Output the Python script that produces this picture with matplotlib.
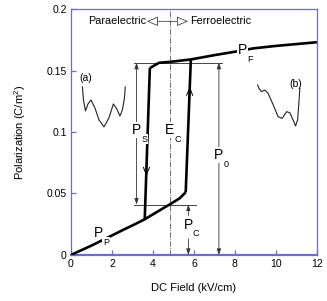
import matplotlib
matplotlib.use("Agg")
import matplotlib.pyplot as plt

plt.rcParams['font.family'] = ['Liberation Sans', 'DejaVu Sans']
plt.rcParams['mathtext.fontset'] = 'custom'
plt.rcParams['mathtext.rm'] = 'Liberation Sans'

# ---- data ----
lower_x = [0.0, 1.05, 1.8, 2.5, 3.0, 3.6, 4.2, 4.83, 5.3, 5.6]
lower_y = [0.0, 0.008, 0.0142, 0.020, 0.024, 0.029, 0.035, 0.0412, 0.046, 0.051]
left_branch_x = [3.6, 3.85]
left_branch_y = [0.029, 0.152]
right_branch_x = [5.6, 5.85]
right_branch_y = [0.051, 0.159]
upper_x = [3.85, 4.3, 4.83, 5.85, 7.0, 8.08, 8.9, 10.0, 11.0, 12.0]
upper_y = [0.152, 0.1563, 0.157, 0.159, 0.1625, 0.1655, 0.168, 0.170, 0.1715, 0.173]

well_a_x = [0.56, 0.61, 0.71, 0.83, 0.98, 1.17, 1.37, 1.61, 1.85, 2.07, 2.24, 2.39, 2.51, 2.61, 2.65]
well_a_y = [0.1366, 0.1260, 0.1171, 0.1228, 0.1260, 0.1195, 0.1098, 0.1041, 0.1114, 0.1228,
            0.1187, 0.1130, 0.1179, 0.1276, 0.1366]
well_b_x = [9.11, 9.17, 9.30, 9.46, 9.62, 9.87, 10.11, 10.31, 10.52, 10.68, 10.84, 10.96, 11.06, 11.12, 11.17]
well_b_y = [0.1382, 0.1355, 0.1328, 0.1341, 0.1315, 0.1220, 0.1124, 0.1111, 0.1165, 0.1157,
            0.1098, 0.1049, 0.1098, 0.1233, 0.1355]

E_c = 4.83
P_top = 0.1563
P_bot = 0.041
ps_x = 3.2
p0_x = 7.22
pc_x = 5.73

# labels: (main letter, subscript, x, y)
labels = [('P', 'S', 3.2, 0.1016),
          ('E', 'C', 4.83, 0.1016),
          ('P', '0', 7.22, 0.0813),
          ('P', 'F', 8.38, 0.1667),
          ('P', 'C', 5.72, 0.0244),
          ('P', 'P', 1.33, 0.0176)]

xticks = [0, 2, 4, 6, 8, 10, 12]
yticks = [0, 0.05, 0.1, 0.15, 0.2]
ytick_labels = ['0', '0.05', '0.1', '0.15', '0.2']

# ---- figure ----
fig = plt.figure(figsize=(3.27, 3.01), dpi=100)
ax = fig.add_axes([0.217, 0.153, 0.752, 0.817])
ax.set_xlim(0, 12)
ax.set_ylim(0, 0.2)

spc = '#6b6bd0'
for s in ax.spines.values():
    s.set_color(spc)
    s.set_linewidth(0.9)
ax.spines['bottom'].set_linewidth(1.6)
ax.tick_params(direction='in', length=3.5, width=0.9, color=spc, labelsize=7.5, pad=3)
ax.set_xticks(xticks)
ax.set_yticks(yticks)
ax.set_yticklabels(ytick_labels)
ax.set_xlabel('DC Field (kV/cm)', fontsize=8, labelpad=10)
ax.set_ylabel('Polarization (C/m$^2$)', fontsize=8, labelpad=13)

# dash-dot coercive field line
ax.axvline(E_c, color='#555555', lw=0.6, ls='-.', zorder=1)

# horizontal reference lines
ax.plot([3.07, 7.35], [P_top, P_top], color='#444444', lw=0.7, zorder=2)
ax.plot([3.07, 6.1], [P_bot, P_bot], color='#444444', lw=0.7, zorder=2)

# hysteresis curves
kw = dict(color='black', lw=1.9, solid_capstyle='butt', zorder=4)
ax.plot(lower_x, lower_y, **kw)
ax.plot(left_branch_x, left_branch_y, **kw)
ax.plot(right_branch_x, right_branch_y, **kw)
ax.plot(upper_x, upper_y, **kw)

# potential wells
ax.plot(well_a_x, well_a_y, color='#222222', lw=0.8)
ax.plot(well_b_x, well_b_y, color='#222222', lw=0.8)

dbl = dict(arrowstyle='<|-|>,head_length=0.35,head_width=0.12',
           color='#333333', lw=0.6, shrinkA=0, shrinkB=0)
ah = dict(arrowstyle='-|>,head_length=0.35,head_width=0.12', color='#333333', lw=0.6,
          shrinkA=0, shrinkB=0)
ax.annotate('', xy=(ps_x, P_top), xytext=(ps_x, P_bot), arrowprops=dbl)
ax.annotate('', xy=(p0_x, P_top), xytext=(p0_x, 0.0), arrowprops=dbl)
ax.annotate('', xy=(pc_x, P_bot), xytext=(pc_x, 0.032), arrowprops=ah)
ax.annotate('', xy=(pc_x, 0.0), xytext=(pc_x, 0.013), arrowprops=ah)

# direction chevrons on branches
chev = dict(arrowstyle='->,head_length=0.55,head_width=0.22', color='black', lw=0.7,
            shrinkA=0, shrinkB=0)
ax.annotate('', xy=(5.80, 0.137), xytext=(5.79, 0.128), arrowprops=chev, zorder=5)
ax.annotate('', xy=(3.68, 0.064), xytext=(3.685, 0.073), arrowprops=chev, zorder=5)

# labels with white boxes to interrupt lines
wb = dict(facecolor='white', edgecolor='none', pad=0.6)
for main, sub, lx, ly in labels:
    box_main = None if main == 'P' and sub in ('C', 'P') else wb
    box_sub = wb if sub in ('S', 'C', '0', 'P') and not (sub == 'C' and main == 'P') else None
    ax.text(lx, ly, main, fontsize=10, ha='center', va='center', bbox=box_main, zorder=5)
    ax.annotate(sub, xy=(lx, ly), xytext=(5.5, -6.5), textcoords='offset points',
                fontsize=6.5, ha='center', va='center', bbox=box_sub, zorder=5)

ax.text(0.7, 0.144, '(a)', fontsize=7.5, ha='center', va='center')
ax.text(10.95, 0.139, '(b)', fontsize=7.5, ha='center', va='center')

# top annotation
ty = 0.190
ax.text(3.65, ty, 'Paraelectric', fontsize=7.8, ha='right', va='center')
ax.text(5.8, ty, 'Ferroelectric', fontsize=7.8, ha='left', va='center')
hol = dict(arrowstyle='-|>,head_length=0.7,head_width=0.3', fc='white', ec='#444444', lw=0.6,
           shrinkA=0, shrinkB=0)
ax.annotate('', xy=(3.7, ty), xytext=(E_c, ty), arrowprops=hol)
ax.annotate('', xy=(5.72, ty), xytext=(E_c, ty), arrowprops=hol)

fig.savefig('out.png', dpi=100)
